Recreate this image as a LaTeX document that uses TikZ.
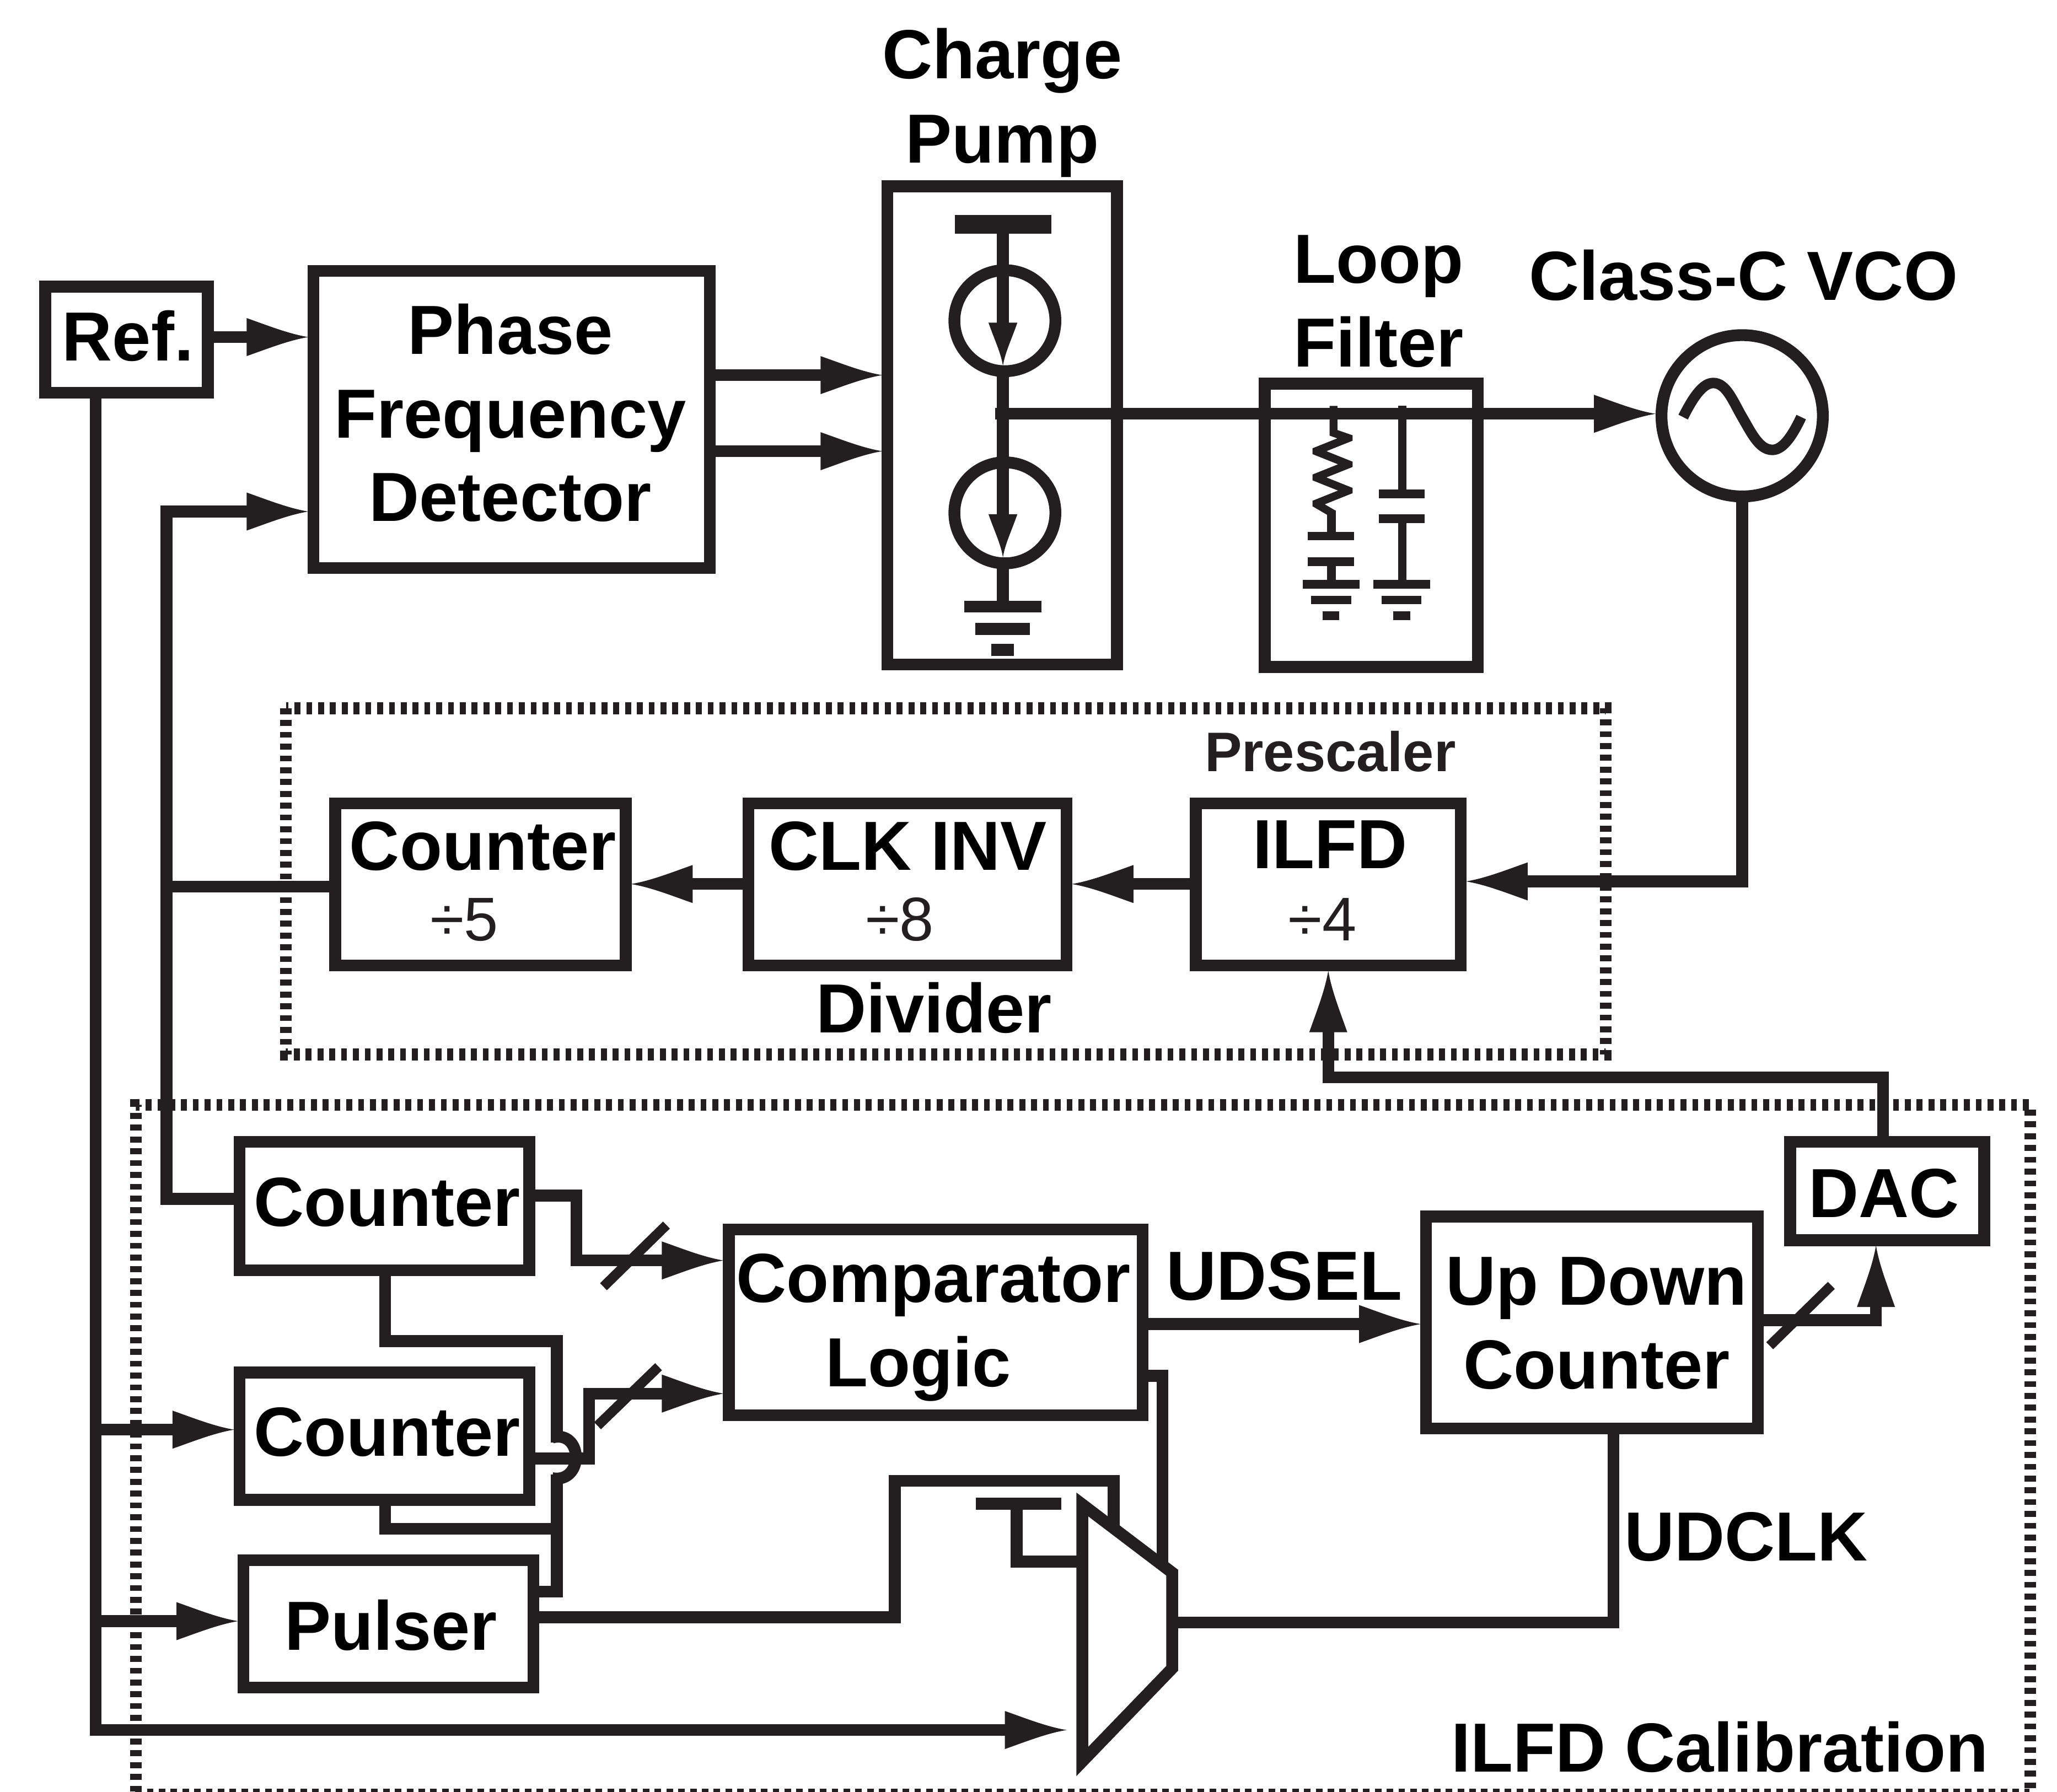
\documentclass[tikz,border=0pt]{standalone}
\usepackage{fontspec}
\setmainfont{Liberation Sans}
\usetikzlibrary{fit,arrows.meta}
\definecolor{ink}{HTML}{231F20}
\makeatletter
\pgfdeclarearrow{name=Hd,
 setup code={\pgfarrowssettipend{0pt}\pgfarrowssetlineend{-41pt}\pgfarrowssetbackend{-47pt}\pgfarrowssetvisualbackend{-41pt}
  \pgfarrowshullpoint{0pt}{0pt}\pgfarrowshullpoint{-47pt}{14.5pt}\pgfarrowshullpoint{-47pt}{-14.5pt}},
 drawing code={\pgfpathmoveto{\pgfpoint{-47pt}{14.5pt}}
  \pgfpathcurveto{\pgfpoint{-30pt}{8.5pt}}{\pgfpoint{-15pt}{2.5pt}}{\pgfpoint{0pt}{0pt}}
  \pgfpathcurveto{\pgfpoint{-15pt}{-2.5pt}}{\pgfpoint{-30pt}{-8.5pt}}{\pgfpoint{-47pt}{-14.5pt}}
  \pgfpathclose\pgfusepathqfill}}
\pgfdeclarearrow{name=Hs,
 setup code={\pgfarrowssettipend{0pt}\pgfarrowssetlineend{-30pt}\pgfarrowssetbackend{-33pt}\pgfarrowssetvisualbackend{-30pt}
  \pgfarrowshullpoint{0pt}{0pt}\pgfarrowshullpoint{-33pt}{11pt}\pgfarrowshullpoint{-33pt}{-11pt}},
 drawing code={\pgfpathmoveto{\pgfpoint{-33pt}{11pt}}
  \pgfpathcurveto{\pgfpoint{-20pt}{6.5pt}}{\pgfpoint{-10pt}{1.5pt}}{\pgfpoint{0pt}{0pt}}
  \pgfpathcurveto{\pgfpoint{-10pt}{-1.5pt}}{\pgfpoint{-20pt}{-6.5pt}}{\pgfpoint{-33pt}{-11pt}}
  \pgfpathclose\pgfusepathqfill}}
\makeatother
\tikzset{
 Box/.style={draw=ink,line width=9pt,inner sep=0pt,outer sep=4pt,rectangle,fit={#1}},
 Ring/.style={draw=ink,line width=9pt,circle,inner sep=0pt,minimum size=#1},
 Wire/.style={draw=ink,line width=9pt},
 Arw/.style={Wire,-Hd,fill=none,ink},
 Thin/.style={draw=ink,line width=6.5pt},
 Slash/.style={draw=ink,line width=7.5pt},
 Dots/.style={draw=ink,line width=9pt,dash pattern=on 4.5pt off 4.5pt},
 Lab/.style={anchor=base,inner sep=0pt,font=\fontsize{53}{60}\selectfont\bfseries,text=black},
 Sm/.style={anchor=base,inner sep=0pt,font=\fontsize{42.5}{50}\selectfont\bfseries,text=ink},
 Num/.style={anchor=base,inner sep=0pt,font=\fontsize{47}{55}\selectfont,text=ink},
}
\begin{document}
\begin{tikzpicture}[x=1pt,y=-1pt]
\useasboundingbox (0,0) rectangle (1568,1366.2);
% dotted frames
\draw[Dots] (218,540) rectangle (1224,804);
\draw[Dots] (103.5,1366) -- (103.5,842.5) -- (1547.5,842.5) -- (1547.5,1366);
\draw[draw=ink,line width=2.5pt,dash pattern=on 5pt off 4pt] (103,1365) -- (1547,1365);
% blocks
\node[Box={(34.5,218.5)(158.5,299.5)}] (ref) {};
\node[Box={(239,206.5)(541,433)}] (pfd) {};
\node[Box={(676.5,142)(851.5,506.5)}] (cp) {};
\node[Box={(964,292.5)(1126.5,508.5)}] (lf) {};
\node[Ring=123pt] (vco) at (1328,317) {};
\node[Box={(255.5,612.5)(477,736)}] (div5) {};
\node[Box={(570.5,612.5)(813,736)}] (div8) {};
\node[Box={(911.5,612.5)(1113.5,736)}] (ilfd) {};
\node[Box={(182.5,870.5)(403.5,968.5)}] (cntA) {};
\node[Box={(182.5,1046.5)(403.5,1143.5)}] (cntB) {};
\node[Box={(185.5,1189.5)(406.5,1286.5)}] (pulser) {};
\node[Box={(555.5,937.5)(871,1079)}] (cmp) {};
\node[Box={(1087,927.5)(1340,1089)}] (ud) {};
\node[Box={(1364.5,870.5)(1512.5,945.5)}] (dac) {};
% labels
\node[Lab] (tCharge) at (764,60) {Charge};
\node[Lab] (tPump) at (764,124) {Pump};
\node[Lab] (tRef) at (97.5,275) {Ref.};
\node[Lab] (tPhase) at (389,270) {Phase};
\node[Lab] (tFreq) at (389,334) {Frequency};
\node[Lab] (tDet) at (389,397.5) {Detector};
\node[Lab,anchor=base west] (tLoop) at (986,216) {Loop};
\node[Lab,anchor=base west] (tFilter) at (986,279.5) {Filter};
\node[Lab] (tVco) at (1329,229) {Class-C VCO};
\node[Sm] (tPre) at (1014,588) {Prescaler};
\node[Lab] (tC5) at (368,663.5) {Counter};
\node[Num] (t5) at (354,717) {÷5};
\node[Lab] (tClk) at (692,663.5) {CLK INV};
\node[Num] (t8) at (686,717) {÷8};
\node[Lab] (tIlfd) at (1014,662) {ILFD};
\node[Num] (t4) at (1008,717) {÷4};
\node[Lab] (tDiv) at (712,787.5) {Divider};
\node[Lab] (tCa) at (295,935) {Counter};
\node[Lab] (tCb) at (295,1110) {Counter};
\node[Lab] (tPul) at (298,1258) {Pulser};
\node[Lab] (tCmp) at (711.5,993) {Comparator};
\node[Lab] (tLog) at (700,1057) {Logic};
\node[Lab] (tUds) at (979,991) {UDSEL};
\node[Lab] (tUp) at (1217,995) {Up Down};
\node[Lab] (tCnt) at (1217,1059) {Counter};
\node[Lab] (tDac) at (1436,928) {DAC};
\node[Lab] (tUdc) at (1331,1190) {UDCLK};
\node[Lab] (tCal) at (1311,1351) {ILFD Calibration};
% upper connectors
\draw[Arw] (ref.east |- 0,257) -- (pfd.west |- 0,257);
\draw[Arw] (pfd.east |- 0,286) -- (cp.west |- 0,286);
\draw[Arw] (pfd.east |- 0,344) -- (cp.west |- 0,344);
\draw[Arw] (758.5,315.5) -- (vco.west |- 0,315.5);
\draw[Arw] (vco.south) -- (1328,672) -- (ilfd.east |- 0,672);
\draw[Arw] (ilfd.west |- 0,674) -- (div8.east |- 0,674);
\draw[Arw] (div8.west |- 0,674) -- (div5.east |- 0,674);
\draw[Wire] (div5.west |- 0,676) -- (127,676);
\draw[Arw] (cntA.west |- 0,914) -- (127,914) -- (127,390) -- (pfd.west |- 0,390);
% charge pump
\coordinate (vdd) at (764.5,171);
\coordinate (tipA) at (764.5,279);
\coordinate (tipB) at (764.5,425);
\coordinate (gnd) at (764.5,462);
\draw[draw=ink,line width=14pt] (728,171) -- (801.5,171);
\node[Ring=77pt] (csA) at (766,244.5) {};
\node[Ring=77pt] (csB) at (766,391) {};
\draw[Wire,-Hs] (vdd) -- (tipA);
\draw[Wire] (tipA) -- (764.5,360);
\draw[Wire,-Hs] (764.5,350) -- (tipB);
\draw[Wire] (tipB) -- (gnd);
\draw[Wire] (735,462.5) -- (794,462.5);
\draw[Wire] (743.5,479.5) -- (785,479.5);
\draw[Wire] (755.5,495.5) -- (773,495.5);
% loop filter
\begin{scope}
\clip (1000.5,305) rectangle (1031,395);
\draw[Thin,line width=6pt,miter limit=20] (1016.5,309.5) -- (1016.5,330) -- (1028,334) -- (1003,344) -- (1028,354) -- (1003,364) -- (1028,374) -- (1003,384) -- (1015,391) -- (1015,400);
\end{scope}
\draw[Thin] (1015,389) -- (1015,409);
\draw[Thin] (997,408.7) -- (1032,408.7);
\draw[Thin] (997,428.2) -- (1032,428.2);
\draw[Thin] (1015,428) -- (1015,445);
\draw[Thin] (993,445.5) -- (1036.5,445.5);
\draw[Thin] (999.5,457.5) -- (1030,457.5);
\draw[Thin] (1008,469.5) -- (1021,469.5);
\draw[Thin] (1069,309.5) -- (1069,376);
\draw[Thin] (1051,376.5) -- (1086,376.5);
\draw[Thin] (1051,395.5) -- (1086,395.5);
\draw[Thin] (1069,395) -- (1069,445);
\draw[Thin] (1047,445.5) -- (1090,445.5);
\draw[Thin] (1053,457.5) -- (1083.5,457.5);
\draw[Thin] (1062,469.5) -- (1075,469.5);
% vco sine
\draw[draw=ink,line width=8pt] (1283,318) .. controls (1292,300) and (1299,292) .. (1306,292) .. controls (1316,292) and (1321,306) .. (1328,318) .. controls (1335,330) and (1341,343) .. (1351,343) .. controls (1358,343) and (1365,335) .. (1373,318);
% reference line
\coordinate (muxIn) at (813,1319);
\draw[Arw] (73,299) -- (73,1319) -- (muxIn);
\draw[Arw] (73,1090) -- (cntB.west |- 0,1090);
\draw[Arw] (73,1236) -- (pulser.west |- 0,1236);
% calibration connectors
\draw[Arw] (cntA.east |- 0,911.5) -- (439.5,911.5) -- (439.5,961) -- (cmp.west |- 0,961);
\coordinate (sA) at (460,981); \coordinate (sB) at (508,934);
\draw[Slash] (sA) -- (sB);
\draw[Arw] (cntB.east |- 0,1112) -- (449,1112) -- (449,1062.5) -- (cmp.west |- 0,1062.5);
\coordinate (sC) at (455.5,1087); \coordinate (sD) at (502,1042);
\draw[Slash] (sC) -- (sD);
\draw[Wire] (293.5,0 |- cntA.south) -- (293.5,1022.5) -- (424.5,1022.5) -- (424.5,1100);
\draw[Wire] (421,1096) .. controls (432,1093) and (439,1101) .. (439,1111) .. controls (439,1121) and (432,1129) .. (421,1127);
\draw[Wire] (424.5,1124) -- (424.5,1213.5) -- (pulser.east |- 0,1213.5);
\draw[Wire] (293.5,0 |- cntB.south) -- (293.5,1165.5) -- (424.5,1165.5);
% mux and its wires
\coordinate (muxA) at (825,1147);
\coordinate (muxB) at (893.5,1199);
\coordinate (muxC) at (893.5,1272);
\coordinate (muxD) at (825,1343);
\draw[Wire] (pulser.east |- 0,1233) -- (682,1233) -- (682,1129) -- (849,1129) -- (849,1165);
\draw[Wire] (cmp.east |- 0,1049) -- (886,1049) -- (886,1195);
\draw[Wire] (744,1146.5) -- (809,1146.5);
\draw[Wire] (775,1146.5) -- (775,1190.5) -- (825,1190.5);
\draw[Wire,miter limit=20] (muxA) -- (muxB) -- (muxC) -- (muxD) -- cycle;
\draw[Arw] (cmp.east |- 0,1009.5) -- (ud.west |- 0,1009.5);
\draw[Wire] (893.5,1237) -- (1230,1237) -- (1230,0 |- ud.south);
\draw[Arw] (ud.east |- 0,1006.5) -- (1430,1006.5) -- (1430,0 |- dac.south);
\coordinate (sE) at (1349,1026); \coordinate (sF) at (1396,980);
\draw[Slash] (sE) -- (sF);
\draw[Arw] (1435.5,0 |- dac.north) -- (1435.5,821.5) -- (1012.5,821.5) -- (ilfd.south);
\end{tikzpicture}
\end{document}
